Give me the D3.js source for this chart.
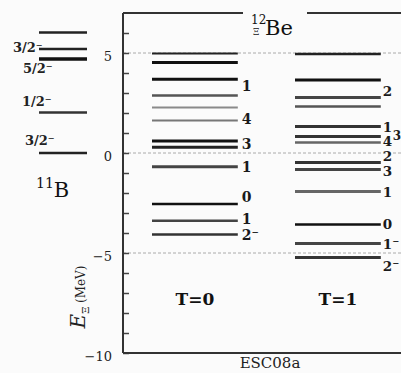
<!DOCTYPE html>
<html>
<head>
<meta charset="utf-8">
<script src="https://cdn.jsdelivr.net/npm/d3@7"></script>
<style>
  html, body { margin: 0; padding: 0; background: #fbfbfb; }
  svg { display: block; font-family: "DejaVu Serif", "Liberation Serif", serif; }
</style>
</head>
<body>
<svg id="chart" width="401" height="373"></svg>
<script>
// Hypernuclear level scheme: 11B core levels and 12ΞBe levels (ESC08a) split by isospin.

// --- data -------------------------------------------------------------
const groups = ["T=0", "T=1"];

// energies (MeV)
const levelsT0 = [4.98, 4.52, 3.69, 2.87, 2.27, 1.62, 0.60, 0.29, -0.69, -2.55, -3.39, -4.07];
const levelsT1 = [4.95, 3.65, 2.78, 2.32, 1.32, 0.82, 0.52, -0.48, -0.82, -1.93, -3.57, -4.52, -5.22];
const levelsB11 = [6.03, 5.20, 4.70, 2.03, 0.00];

// spin labels and the energy at which each label sits
const labelsT0 = ["1", "4", "3", "1", "0", "1", "2⁻"];
const labelET0 = [3.35, 1.72, 0.45, -0.72, -2.2, -3.3, -4.1];
const labelsT1 = ["2", "1", "4", "2", "3", "1", "0", "1⁻", "2⁻"];
const labelET1 = [3.1, 1.28, 0.58, -0.15, -0.92, -1.95, -3.55, -4.55, -5.65];
const sideLabelT1 = ["3"];
const sideLabelET1 = [0.88];
const labelsB11 = ["3/2⁻", "5/2⁻", "1/2⁻", "3/2⁻"];
const labelEB11 = [5.28, 4.22, 2.6, 0.65];

const yTicks = [-10, -5, 0, 5];
const minorTicks = d3.range(-10, 7, 1);
const guideLines = [-5, 0, 5];

// --- styles -----------------------------------------------------------
const strokeT0 = ["#222", "#111", "#111", "#555", "#8a8a8a", "#777", "#111", "#222", "#444", "#111", "#444", "#333"];
const widthT0  = [2, 3, 3, 2.5, 2, 2, 3, 3, 3, 2.5, 2.5, 2.5];
const strokeT1 = ["#222", "#111", "#444", "#555", "#333", "#333", "#666", "#333", "#444", "#666", "#111", "#444", "#333"];
const widthT1  = [2.5, 3, 3, 2.5, 3, 3, 2.5, 3, 3, 3, 2.5, 3, 3];
const strokeB11 = ["#222", "#222", "#111", "#333", "#222"];
const widthB11  = [2.5, 2.5, 3.5, 2.5, 2.5];
const bLabelX = [13, 23, 22, 25];

// --- layout -----------------------------------------------------------
const svg = d3.select("#chart");
const axisX = 123, plotTop = 13, plotBottom = 353, rightEdge = 401;

const y = d3.scaleLinear().domain([-10, 7]).range([plotBottom, plotTop]);
const x = d3.scaleBand().domain(groups).range([137.7, 395.1]).paddingInner(0.4).paddingOuter(0.1);

// dashed guide lines
svg.append("g").selectAll("line").data(guideLines).join("line")
  .attr("x1", axisX).attr("x2", rightEdge)
  .attr("y1", d => y(d)).attr("y2", d => y(d))
  .attr("stroke", "#aaa").attr("stroke-width", 1).attr("stroke-dasharray", "3,2");

// minor/major ticks pointing inward
svg.append("g")
  .attr("transform", `translate(${axisX},0)`)
  .call(d3.axisRight(y).tickValues(minorTicks).tickSize(6).tickFormat(""))
  .call(g => g.select(".domain").remove())
  .call(g => g.selectAll(".tick line").attr("stroke", "#444").attr("stroke-width", 1.5));

// tick labels on the left
svg.append("g")
  .attr("transform", `translate(${axisX},0)`)
  .call(d3.axisLeft(y).tickValues(yTicks).tickSize(0).tickPadding(11).tickFormat(d => d < 0 ? "−" + Math.abs(d) : d))
  .call(g => g.select(".domain").remove())
  .call(g => g.selectAll(".tick text")
    .attr("dy", "0.55em")
    .attr("font-family", "DejaVu Serif, serif")
    .attr("font-size", 13).attr("fill", "#222"));

// frame: left axis, bottom, and top with a gap for the title
const frame = svg.append("g").attr("stroke", "#333").attr("stroke-width", 2).attr("fill", "none");
frame.append("line").attr("x1", axisX).attr("x2", axisX).attr("y1", plotTop).attr("y2", plotBottom);
frame.append("line").attr("x1", axisX).attr("x2", rightEdge).attr("y1", plotBottom).attr("y2", plotBottom);
frame.append("line").attr("x1", axisX).attr("x2", 243).attr("y1", plotTop).attr("y2", plotTop);
frame.append("line").attr("x1", 307).attr("x2", rightEdge).attr("y1", plotTop).attr("y2", plotTop);

// level lines for each column
function drawLevels(levels, strokes, widths, x0, x1) {
  svg.append("g").selectAll("line").data(levels).join("line")
    .attr("x1", x0).attr("x2", x1)
    .attr("y1", d => y(d)).attr("y2", d => y(d))
    .attr("stroke", (d, i) => strokes[i])
    .attr("stroke-width", (d, i) => widths[i]);
}
const t0x = x("T=0"), t1x = x("T=1"), bw = x.bandwidth();
drawLevels(levelsT0, strokeT0, widthT0, t0x, t0x + bw);
drawLevels(levelsT1, strokeT1, widthT1, t1x, t1x + bw);
drawLevels(levelsB11, strokeB11, widthB11, 39, 87);

function drawLabels(labels, energies, xPos, size) {
  svg.append("g").selectAll("text").data(labels).join("text")
    .attr("x", xPos)
    .attr("y", (d, i) => y(energies[i]))
    .attr("dy", "0.36em")
    .attr("font-size", size).attr("font-weight", "bold").attr("fill", "#1a1a1a")
    .text(d => d);
}
drawLabels(labelsT0, labelET0, t0x + bw + 4, 14);
drawLabels(labelsT1, labelET1, t1x + bw + 2, 13.5);
drawLabels(sideLabelT1, sideLabelET1, t1x + bw + 12, 12);

svg.append("g").selectAll("text").data(labelsB11).join("text")
  .attr("x", (d, i) => bLabelX[i])
  .attr("y", (d, i) => y(labelEB11[i]))
  .attr("dy", "0.36em")
  .attr("font-size", 13).attr("font-weight", "bold").attr("fill", "#222")
  .text(d => d);

// column captions
svg.append("g").selectAll("text").data(groups).join("text")
  .attr("x", d => x(d) + bw / 2)
  .attr("y", 305)
  .attr("text-anchor", "middle")
  .attr("font-size", 17).attr("font-weight", "bold").attr("fill", "#111")
  .text(d => d);

// 11B caption
const b11 = svg.append("text").attr("x", 36).attr("y", 197).attr("fill", "#111");
b11.append("tspan").attr("font-size", 14).attr("dy", -9).text("11");
b11.append("tspan").attr("font-size", 21).attr("dy", 9).text("B");

// 12ΞBe caption
const title = svg.append("g").attr("fill", "#111");
title.append("text").attr("x", 251).attr("y", 24).attr("font-size", 12).text("12");
title.append("text").attr("x", 253).attr("y", 35).attr("font-size", 9).text("Ξ");
title.append("text").attr("x", 265).attr("y", 35).attr("font-size", 21).text("Be");

// y axis title
const yt = svg.append("text")
  .attr("transform", "translate(85,297) rotate(-90)")
  .attr("text-anchor", "middle").attr("fill", "#222");
yt.append("tspan").attr("font-size", 20).attr("font-style", "italic").text("E");
yt.append("tspan").attr("font-size", 10).attr("dy", 4).text("Ξ");
yt.append("tspan").attr("font-size", 12).attr("dy", -4).text("  (MeV)");

// model name
svg.append("text").attr("x", 270).attr("y", 368).attr("text-anchor", "middle")
  .attr("font-size", 15).attr("fill", "#222").text("ESC08a");
</script>
</body>
</html>
